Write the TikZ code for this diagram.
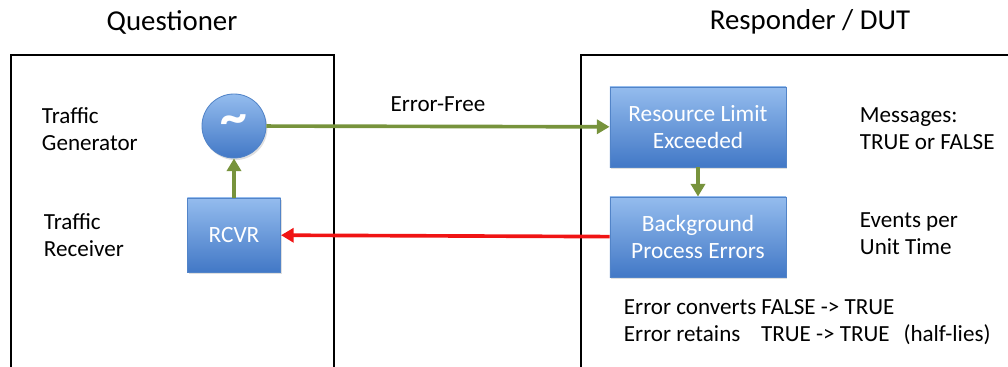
\documentclass[tikz,border=0pt]{standalone}
\usepackage{fontspec}
\setmainfont{Carlito}
\usetikzlibrary{arrows.meta,shadows}

\definecolor{boxtop}{RGB}{148,188,238}
\definecolor{boxbot}{RGB}{66,120,198}
\definecolor{boxline}{RGB}{82,132,200}
\definecolor{flowgreen}{RGB}{119,147,60}
\definecolor{flowred}{RGB}{240,20,20}

\tikzset{
  unit/.style={draw=boxline, line width=0.6pt, top color=boxtop, bottom color=boxbot,
    text=white, align=center, font=\fontsize{16.6}{19.2}\selectfont,
    drop shadow={opacity=0.25, shadow xshift=1pt, shadow yshift=-1.5pt}},
  blockbox/.style={unit, rectangle, minimum width=4.4cm, minimum height=2cm},
  rcvrbox/.style={unit, rectangle, minimum width=2.33cm, minimum height=1.85cm},
  gen/.style={unit, circle, minimum size=1.6cm, inner sep=0pt},
  note/.style={align=left, anchor=west, font=\fontsize{16.4}{19.2}\selectfont},
  title/.style={font=\fontsize{20.5}{24}\selectfont},
  frame/.style={line width=1.1pt},
  flow/.style={line width=2.6pt, -{Triangle[length=9pt,width=10pt]}},
}

\begin{document}
\begin{tikzpicture}[x=0.025cm,y=-0.025cm]
\useasboundingbox (0,0) rectangle (1008,367);

% Party frames (open at the bottom)
\draw[frame] (11,370) -- (11,55) -- (334,55) -- (334,370);
\draw[frame] (581,370) -- (581,55) -- (1012,55);
\node[title] (qtitle) at (172,22) {Questioner};
\node[title] (rtitle) at (810,22) {Responder / DUT};

% Questioner side
\node[gen] (gen) at (234,126) {\raisebox{2pt}{\fontsize{38}{38}\selectfont\textbf{\textasciitilde}}};
\node[rcvrbox] (rcvr) at (234,235) {RCVR};
\node[note] (tgen) at (37,129.5) {Traffic\\Generator};
\node[note] (trcv) at (39,235.5) {Traffic\\Receiver};

% Responder side
\node[blockbox] (limit) at (698,127) {Resource Limit\\Exceeded};
\node[blockbox] (bgerr) at (698,237) {Background\\Process Errors};
\node[note] (msgs) at (855,128.5) {Messages:\\TRUE or FALSE};
\node[note] (rate) at (855,233.5) {Events per\\Unit Time};
\node[note] (rule) at (619,322) {Error converts FALSE -> TRUE\\Error retains\hspace{0.9em}TRUE -> TRUE\hspace{0.6em}(half-lies)};

% Flows
\draw[flow, flowgreen] (rcvr) -- (gen);
\draw[flow, flowgreen] (gen) -- node[above=6pt, text=black, font=\fontsize{16.4}{19.2}\selectfont] (efree) {Error-Free} (limit);
\draw[flow, flowgreen] (limit) -- (bgerr);
\draw[flow, flowred] (bgerr) -- (rcvr);
\end{tikzpicture}
\end{document}
